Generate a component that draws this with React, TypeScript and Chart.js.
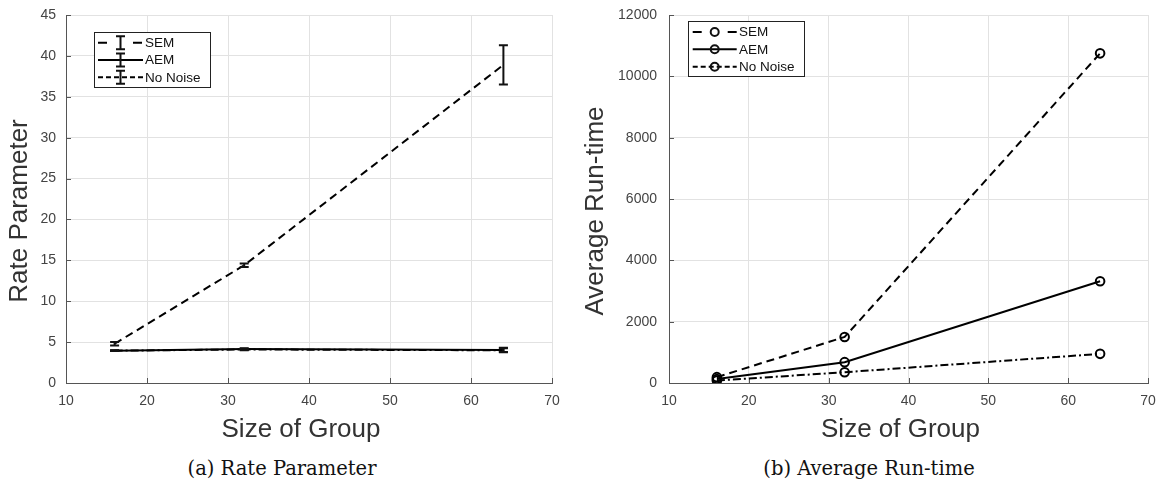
import React, { useEffect, useRef } from "react";
import { Chart, registerables } from "chart.js";

Chart.register(...registerables);

// ---------- data ----------
const groupSizes = [16, 32, 64];
const seriesNames = ["SEM", "AEM", "No Noise"];

const rateSEM = [4.8, 14.4, 38.9];
const rateSEMErr = [0.2, 0.2, 2.4];
const rateAEM = [3.95, 4.15, 4.05];
const rateAEMErr = [0.05, 0.1, 0.25];
const rateNoNoise = [3.95, 4.1, 4.0];
const rateNoNoiseErr = [0.05, 0.08, 0.25];

const runSEM = [190, 1500, 10750];
const runAEM = [130, 680, 3320];
const runNoNoise = [80, 350, 950];

const xRange = [10, 70];
const xStep = 10;
const rateRange = [0, 45];
const rateStep = 5;
const runRange = [0, 12000];
const runStep = 2000;

const xTitle = "Size of Group";
const rateYTitle = "Rate Parameter";
const runYTitle = "Average Run-time";
const captions = ["(a) Rate Parameter", "(b) Average Run-time"];

// ---------- styles ----------
const lineDashes = [[8, 5], [], [8, 3, 2, 3]];
const legendDashes = [[9, 26], [], [5, 3]];
const SANS = '"Liberation Sans", Arial, Helvetica, sans-serif';
const W = 578;
const H = 450;

// ---------- plugins ----------
const inwardTicks = {
  id: "inwardTicks",
  beforeDatasetsDraw(chart: any, _a: any, opts: any) {
    const { ctx, chartArea, scales } = chart;
    ctx.save();
    ctx.strokeStyle = opts.color;
    ctx.lineWidth = 1;
    ctx.beginPath();
    scales.x.ticks.forEach((t: any) => {
      const px = Math.round(scales.x.getPixelForValue(t.value)) + 0.5;
      ctx.moveTo(px, chartArea.bottom);
      ctx.lineTo(px, chartArea.bottom - opts.len);
    });
    scales.y.ticks.forEach((t: any) => {
      const py = Math.round(scales.y.getPixelForValue(t.value)) + 0.5;
      ctx.moveTo(chartArea.left, py);
      ctx.lineTo(chartArea.left + opts.len, py);
    });
    ctx.stroke();
    ctx.restore();
  },
};

const errorBars = {
  id: "errorBars",
  afterDatasetsDraw(chart: any) {
    const { ctx, scales } = chart;
    ctx.save();
    ctx.strokeStyle = "#111";
    ctx.lineWidth = 2;
    ctx.setLineDash([]);
    chart.data.datasets.forEach((ds: any) => {
      if (!ds.errors) return;
      ds.data.forEach((p: any, i: number) => {
        const e = ds.errors[i];
        const px = scales.x.getPixelForValue(p.x);
        const y0 = scales.y.getPixelForValue(p.y - e);
        const y1 = scales.y.getPixelForValue(p.y + e);
        ctx.beginPath();
        ctx.moveTo(px, y0);
        ctx.lineTo(px, y1);
        ctx.moveTo(px - 4.5, y0);
        ctx.lineTo(px + 4.5, y0);
        ctx.moveTo(px - 4.5, y1);
        ctx.lineTo(px + 4.5, y1);
        ctx.stroke();
      });
    });
    ctx.restore();
  },
};

const axisTitles = {
  id: "axisTitles",
  afterDraw(chart: any, _a: any, opts: any) {
    const { ctx, chartArea } = chart;
    ctx.save();
    ctx.fillStyle = opts.color;
    ctx.font = `${opts.size}px ${SANS}`;
    ctx.textAlign = "center";
    ctx.textBaseline = "middle";
    const cx = (chartArea.left + chartArea.right) / 2 + opts.xShift;
    ctx.fillText(opts.xText, cx, opts.xTitleY);
    ctx.translate(opts.yTitleX, (chartArea.top + chartArea.bottom) / 2 + opts.yShift);
    ctx.rotate(-Math.PI / 2);
    ctx.fillText(opts.yText, 0, 0);
    ctx.restore();
  },
};

const boxLegend = {
  id: "boxLegend",
  afterDraw(chart: any, _a: any, o: any) {
    const { ctx } = chart;
    ctx.save();
    ctx.fillStyle = "#fff";
    ctx.fillRect(o.x, o.y, o.w, o.h);
    ctx.strokeStyle = "#222";
    ctx.lineWidth = 1;
    ctx.setLineDash([]);
    ctx.strokeRect(o.x + 0.5, o.y + 0.5, o.w, o.h);
    chart.data.datasets.forEach((ds: any, i: number) => {
      const yy = o.y + o.rows[i];
      ctx.strokeStyle = "#000";
      ctx.lineWidth = 2;
      ctx.setLineDash(ds.legendDash || []);
      ctx.beginPath();
      ctx.moveTo(o.lx0, yy);
      ctx.lineTo(o.lx1, yy);
      ctx.stroke();
      ctx.setLineDash([]);
      const cx = (o.lx0 + o.lx1) / 2;
      ctx.strokeStyle = "#111";
      if (o.marker === "errorbar") {
        ctx.beginPath();
        ctx.moveTo(cx, yy - 6.5);
        ctx.lineTo(cx, yy + 6.5);
        ctx.moveTo(cx - 4.5, yy - 6.5);
        ctx.lineTo(cx + 4.5, yy - 6.5);
        ctx.moveTo(cx - 4.5, yy + 6.5);
        ctx.lineTo(cx + 4.5, yy + 6.5);
        ctx.stroke();
      } else {
        ctx.beginPath();
        ctx.arc(cx, yy, 4, 0, Math.PI * 2);
        ctx.stroke();
      }
      ctx.fillStyle = "#111";
      ctx.font = `13.5px ${SANS}`;
      ctx.textAlign = "left";
      ctx.textBaseline = "middle";
      ctx.fillText(ds.label, o.tx, yy + 0.5);
    });
    ctx.restore();
  },
};

function makeDatasets(values: number[][], errs: number[][] | null, withMarkers: boolean) {
  return values.map((vals, i) => ({
    label: seriesNames[i],
    data: groupSizes.map((x, j) => ({ x, y: vals[j] })),
    borderColor: "#000",
    borderWidth: 2,
    borderDash: lineDashes[i],
    pointRadius: withMarkers ? 4.3 : 0,
    pointHoverRadius: withMarkers ? 4.3 : 0,
    pointBorderWidth: 2,
    pointBorderColor: "#000",
    pointBackgroundColor: "rgba(0,0,0,0)",
    fill: false,
    tension: 0,
    errors: errs ? errs[i] : null,
    legendDash: legendDashes[i],
  }));
}

function makeConfig(opts: {
  datasets: any[];
  yRange: number[];
  yStep: number;
  yWidth: number;
  padRight: number;
  yPad: number;
  yText: string;
  yTitleX: number;
  legend: any;
}): any {
  return {
    type: "line",
    data: { datasets: opts.datasets },
    plugins: [inwardTicks, errorBars, axisTitles, boxLegend],
    options: {
      animation: false,
      responsive: false,
      devicePixelRatio: 1,
      events: [],
      layout: { padding: { left: 0, top: 15, right: opts.padRight, bottom: 0 } },
      scales: {
        x: {
          type: "linear",
          min: xRange[0],
          max: xRange[1],
          ticks: {
            stepSize: xStep,
            color: "#444",
            font: { family: SANS, size: 14 },
            padding: 10,
            maxRotation: 0,
            autoSkip: false,
          },
          grid: { color: "#e2e2e2", drawTicks: false, lineWidth: 1 },
          border: { color: "#555", width: 1 },
          afterFit: (s: any) => {
            s.height = H - 383;
            s.paddingLeft = 0;
            s.paddingRight = 0;
          },
        },
        y: {
          type: "linear",
          min: opts.yRange[0],
          max: opts.yRange[1],
          ticks: {
            stepSize: opts.yStep,
            color: "#444",
            font: { family: SANS, size: 14 },
            padding: opts.yPad,
            callback: (v: any) => String(v),
          },
          grid: { color: "#e2e2e2", drawTicks: false, lineWidth: 1 },
          border: { color: "#555", width: 1 },
          afterFit: (s: any) => {
            s.width = opts.yWidth;
            s.paddingTop = 0;
            s.paddingBottom = 0;
          },
        },
      },
      plugins: {
        legend: { display: false },
        tooltip: { enabled: false },
        inwardTicks: { color: "#555", len: 5 },
        axisTitles: {
          color: "#333",
          size: 26,
          xText: xTitle,
          yText: opts.yText,
          xShift: -8,
          xTitleY: 430,
          yTitleX: opts.yTitleX,
          yShift: 12,
        },
        boxLegend: opts.legend,
      },
    },
  };
}

const leftConfig = () =>
  makeConfig({
    datasets: makeDatasets(
      [rateSEM, rateAEM, rateNoNoise],
      [rateSEMErr, rateAEMErr, rateNoNoiseErr],
      false
    ),
    yRange: rateRange,
    yStep: rateStep,
    yWidth: 66,
    padRight: W - 552,
    yPad: 10,
    yText: rateYTitle,
    yTitleX: 20,
    legend: {
      x: 94,
      y: 32,
      w: 116,
      h: 55,
      rows: [10.7, 28, 45.3],
      lx0: 98,
      lx1: 143,
      tx: 145,
      marker: "errorbar",
    },
  });

const rightConfig = () =>
  makeConfig({
    datasets: makeDatasets([runSEM, runAEM, runNoNoise], null, true),
    yRange: runRange,
    yStep: runStep,
    yWidth: 91,
    padRight: W - 570,
    yPad: 12,
    yText: runYTitle,
    yTitleX: 18,
    legend: {
      x: 110,
      y: 21,
      w: 116,
      h: 55,
      rows: [11, 28.3, 45.7],
      lx0: 114.7,
      lx1: 158.7,
      tx: 161,
      marker: "circle",
    },
  });

function ChartCanvas({ build, left }: { build: () => any; left: number }) {
  const ref = useRef<HTMLCanvasElement>(null);
  useEffect(() => {
    const chart = new Chart(ref.current as HTMLCanvasElement, build());
    return () => chart.destroy();
  }, []);
  return (
    <canvas
      ref={ref}
      width={W}
      height={H}
      style={{ position: "absolute", left, top: 0, width: W, height: H, display: "block" }}
    />
  );
}

const captionStyle: React.CSSProperties = {
  position: "absolute",
  top: 457,
  width: 300,
  textAlign: "center",
  fontFamily: '"DejaVu Serif", serif',
  fontSize: "19.5px",
  lineHeight: "24px",
  color: "#111",
  whiteSpace: "nowrap",
};

export default function App() {
  return (
    <div
      style={{
        position: "fixed",
        left: 0,
        top: 0,
        width: 1156,
        height: 480,
        background: "#fff",
        overflow: "hidden",
      }}
    >
      <ChartCanvas build={leftConfig} left={0} />
      <ChartCanvas build={rightConfig} left={W} />
      <div style={{ ...captionStyle, left: 282 - 150 }}>{captions[0]}</div>
      <div style={{ ...captionStyle, left: 869 - 150 }}>{captions[1]}</div>
    </div>
  );
}
